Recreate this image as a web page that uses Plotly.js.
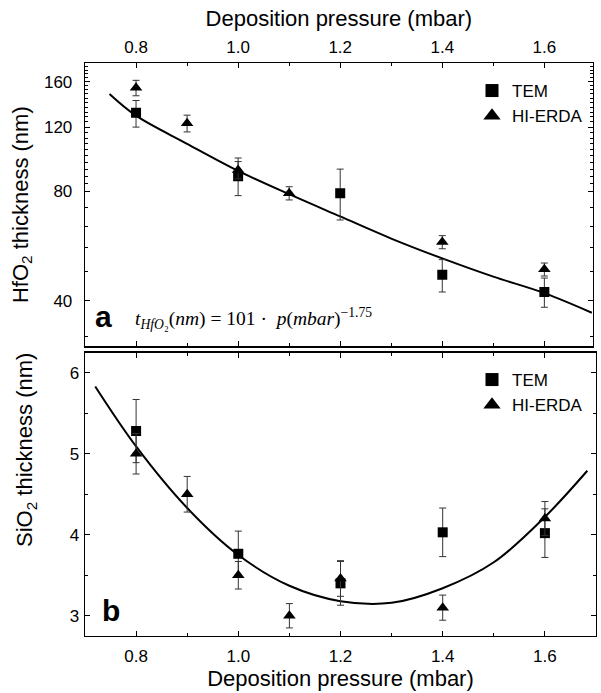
<!DOCTYPE html>
<html>
<head>
<meta charset="utf-8">
<script src="https://cdn.plot.ly/plotly-3.0.1.min.js"></script>
<style>
  html, body { margin: 0; padding: 0; background: #fff; }
  #chart { width: 601px; height: 693px; }
</style>
</head>
<body>
<div id="chart"></div>
<script>
// ---------- data ----------
// Panel a: HfO2 thickness (nm), log axis
const pTEM_a = [0.8, 1.0, 1.2, 1.4, 1.6];
const hfo2TEM = [131.5, 88, 79, 47.2, 42.3];
const hfo2TEMerrPlus = [10.5, 10.7, 13, 4.7, 3.9];
const hfo2TEMerrMinus = [11.5, 10.2, 12.3, 4.9, 3.9];

const pERDA_a = [0.8, 0.9, 1.0, 1.1, 1.4, 1.6];
const hfo2ERDA = [153.8, 122.9, 91.5, 79.0, 58.0, 48.8];
const hfo2ERDAerr = [7.5, 6.5, 5, 3.3, 2.4, 2];

const fitP_a = [0.748, 0.8, 0.9, 1.0, 1.1, 1.2, 1.3, 1.4, 1.5, 1.6, 1.693];
const fitHfO2 = [148, 129, 108, 91, 78.5, 68.2, 59.3, 52.3, 46.6, 42.0, 37.1];

// Panel b: SiO2 thickness (nm)
const pTEM_b = [0.8, 1.0, 1.2, 1.4, 1.6];
const sio2TEM = [5.28, 3.765, 3.40, 4.03, 4.02];
const sio2TEMerr = [0.39, 0.28, 0.27, 0.30, 0.30];

const pERDA_b = [0.8, 0.9, 1.0, 1.1, 1.2, 1.4, 1.6];
const sio2ERDA = [5.0, 4.5, 3.5, 3.0, 3.46, 3.10, 4.20];
const sio2ERDAerr = [0.25, 0.22, 0.17, 0.15, 0.22, 0.155, 0.21];

const fitP_b = [0.72, 0.8, 0.9, 1.0, 1.1, 1.2, 1.3, 1.4, 1.5, 1.6, 1.683];
const fitSiO2 = [5.83, 5.09, 4.33, 3.75, 3.37, 3.18, 3.16, 3.34, 3.66, 4.22, 4.79];

// tick labels
const xTicks = [0.8, 1.0, 1.2, 1.4, 1.6];
const xTickText = ['0.8', '1.0', '1.2', '1.4', '1.6'];
const xMinor = [0.9, 1.1, 1.3, 1.5];
const yTicksA = [40, 80, 120, 160];
const yTicksB = [3, 4, 5, 6];

const legendNames = ['TEM', 'HI-ERDA'];
const xTitle = 'Deposition pressure (mbar)';
const yTitleA = 'HfO<sub>2</sub> thickness (nm)';
const yTitleB = 'SiO<sub>2</sub> thickness (nm)';

// ---------- layout helpers ----------
const W = 601, H = 693, ML = 85, MR = 5, MT = 63, MB = 57;
const PW = W - ML - MR, PH = H - MT - MB;
const fx = px => (px - ML) / PW;
const fy = py => (H - MB - py) / PH;

const minorA = [];
for (let v = 124; v <= 176; v += 4) minorA.push(v);
for (let v = 84; v <= 116; v += 4) minorA.push(v);
for (let v = 32; v <= 72; v += 8) if (v !== 40) minorA.push(v);

const FONT = 'Liberation Sans, Arial, sans-serif';
const TITLE_FONT = {family: FONT, size: 22, color: '#000'};
const errStyle = (arr, minus) => ({type: 'data', array: arr, arrayminus: minus || arr, symmetric: !minus,
  visible: true, color: '#333', thickness: 1, width: 3.5});

const traces = [
  // panel a
  {x: fitP_a, y: fitHfO2, xaxis: 'x2', yaxis: 'y2', mode: 'lines', line: {color: '#000', width: 2, shape: 'spline', smoothing: 1}, showlegend: false, hoverinfo: 'skip'},
  {x: pTEM_a, y: hfo2TEM, xaxis: 'x2', yaxis: 'y2', mode: 'markers', marker: {symbol: 'square', size: 10, color: '#000'},
   error_y: errStyle(hfo2TEMerrPlus, hfo2TEMerrMinus), showlegend: false},
  {x: pERDA_a, y: hfo2ERDA, xaxis: 'x2', yaxis: 'y2', mode: 'markers', marker: {symbol: 'triangle-up', size: 11, color: '#000'},
   error_y: errStyle(hfo2ERDAerr), showlegend: false},
  // legend entries panel a
  {x: [null], y: [null], xaxis: 'x2', yaxis: 'y2', mode: 'markers', name: legendNames[0], marker: {symbol: 'square', size: 13, color: '#000'}, legend: 'legend'},
  {x: [null], y: [null], xaxis: 'x2', yaxis: 'y2', mode: 'markers', name: legendNames[1], marker: {symbol: 'triangle-up', size: 15, color: '#000'}, legend: 'legend'},
  // panel b
  {x: fitP_b, y: fitSiO2, xaxis: 'x', yaxis: 'y', mode: 'lines', line: {color: '#000', width: 2, shape: 'spline', smoothing: 1}, showlegend: false, hoverinfo: 'skip'},
  {x: pTEM_b, y: sio2TEM, xaxis: 'x', yaxis: 'y', mode: 'markers', marker: {symbol: 'square', size: 10, color: '#000'},
   error_y: errStyle(sio2TEMerr), showlegend: false},
  {x: pERDA_b, y: sio2ERDA, xaxis: 'x', yaxis: 'y', mode: 'markers', marker: {symbol: 'triangle-up', size: 11, color: '#000'},
   error_y: errStyle(sio2ERDAerr), showlegend: false},
  {x: [null], y: [null], xaxis: 'x', yaxis: 'y', mode: 'markers', name: legendNames[0], marker: {symbol: 'square', size: 13, color: '#000'}, legend: 'legend2'},
  {x: [null], y: [null], xaxis: 'x', yaxis: 'y', mode: 'markers', name: legendNames[1], marker: {symbol: 'triangle-up', size: 15, color: '#000'}, legend: 'legend2'}
];

const axisCommon = {
  showline: true, linecolor: '#000', linewidth: 1.3, mirror: 'ticks',
  ticks: 'inside', ticklen: 5, tickwidth: 1, tickcolor: '#000',
  showgrid: false, zeroline: false,
  tickfont: {family: FONT, size: 17, color: '#000'}
};

const layout = {
  width: W, height: H,
  margin: {l: ML, r: MR, t: MT, b: MB},
  paper_bgcolor: '#fff', plot_bgcolor: '#fff',
  font: {family: FONT, color: '#000'},
  xaxis: Object.assign({}, axisCommon, {
    domain: [0, 1], range: [0.7, 1.7], anchor: 'y', side: 'bottom',
    tickmode: 'array', tickvals: xTicks, ticktext: xTickText, ticklabelstandoff: 4,
    minor: {tickmode: 'array', tickvals: xMinor, ticks: 'inside', ticklen: 3, tickcolor: '#000'},
    title: {text: xTitle, font: TITLE_FONT, standoff: 5}
  }),
  xaxis2: Object.assign({}, axisCommon, {
    domain: [0, fx(592.7)], range: [0.7, 0.7 + (592.7 - ML) / 510.4], anchor: 'y2', side: 'top',
    tickmode: 'array', tickvals: xTicks, ticktext: xTickText, ticklabelstandoff: 2,
    minor: {tickmode: 'array', tickvals: xMinor, ticks: 'inside', ticklen: 3, tickcolor: '#000'},
    title: {text: xTitle, font: TITLE_FONT, standoff: 5}
  }),
  yaxis: Object.assign({}, axisCommon, {
    domain: [0, fy(352.5)], range: [2.75, 6.25], anchor: 'x',
    tickmode: 'array', tickvals: yTicksB, ticklabelstandoff: 1,
    minor: {dtick: 0.5, tick0: 0, ticks: 'inside', ticklen: 3, tickcolor: '#000'}
  }),
  yaxis2: Object.assign({}, axisCommon, {
    domain: [fy(346.3), 1], type: 'log', range: [Math.log10(30), Math.log10(180)], anchor: 'x2',
    tickmode: 'array', tickvals: yTicksA, ticktext: yTicksA.map(String), ticklabelstandoff: 8,
    minor: {tickmode: 'array', tickvals: minorA, ticks: 'inside', ticklen: 3, tickcolor: '#000'},
    title: {text: yTitleA, font: TITLE_FONT, standoff: 9}
  }),
  legend: {x: fx(472), xanchor: 'left', y: fy(73), yanchor: 'top', bgcolor: 'rgba(0,0,0,0)',
    font: {family: FONT, size: 17, color: '#000'}, itemsizing: 'trace', tracegroupgap: 0},
  legend2: {x: fx(472), xanchor: 'left', y: fy(362), yanchor: 'top', bgcolor: 'rgba(0,0,0,0)',
    font: {family: FONT, size: 17, color: '#000'}, itemsizing: 'trace', tracegroupgap: 0},
  annotations: [
    {text: yTitleB, xref: 'paper', yref: 'paper', x: fx(26), y: fy(450), xanchor: 'center', yanchor: 'middle',
     textangle: -90, showarrow: false, font: TITLE_FONT},
    {text: '<b>a</b>', xref: 'paper', yref: 'paper', x: fx(103), y: fy(335), xanchor: 'center', yanchor: 'bottom',
     showarrow: false, font: {family: FONT, size: 30, color: '#000'}},
    {text: '<b>b</b>', xref: 'paper', yref: 'paper', x: fx(111), y: fy(629), xanchor: 'center', yanchor: 'bottom',
     showarrow: false, font: {family: FONT, size: 30, color: '#000'}},
    {text: '<i>t</i><sub><i>HfO</i>₂</sub>(<i>nm</i>) = 101 ·  <i>p</i>(<i>mbar</i>)<sup>−1.75</sup>',
     xref: 'paper', yref: 'paper', x: fx(133), y: fy(334), xanchor: 'left', yanchor: 'bottom',
     showarrow: false, font: {family: 'Liberation Serif, Times New Roman, serif', size: 19.5, color: '#000'}}
  ]
};

Plotly.newPlot('chart', traces, layout, {displayModeBar: false, staticPlot: true});
</script>
</body>
</html>
